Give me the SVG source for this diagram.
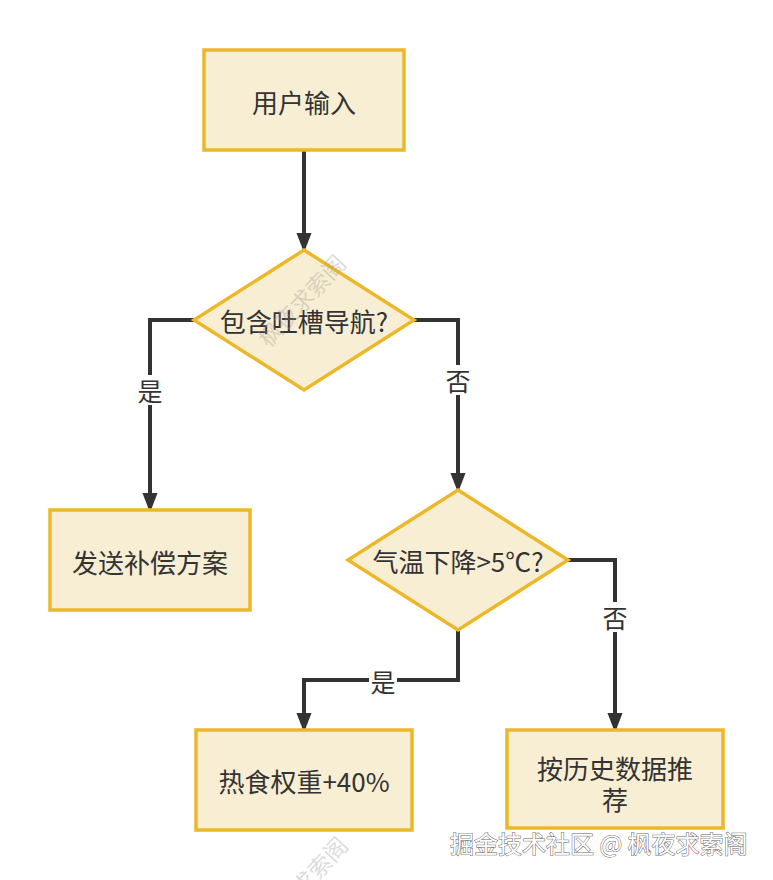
<svg xmlns="http://www.w3.org/2000/svg" width="773" height="880" viewBox="0 0 773 880">
<style>
.node{fill:#f8eed3;stroke:#ecb82a;stroke-width:3.5}
.t{font-family:"Noto Sans CJK SC","Noto Sans",sans-serif;font-size:26px;fill:#333;text-anchor:middle;dominant-baseline:central}
.edge{fill:none;stroke:#333;stroke-width:4}
.lbl{fill:#fff}
.lt{font-family:"Noto Sans CJK SC","Noto Sans",sans-serif;font-size:25px;fill:#333;text-anchor:middle;dominant-baseline:central}
.wm{font-family:"Noto Sans CJK SC",sans-serif;font-size:23px;fill:#999;fill-opacity:0.35;text-anchor:middle;dominant-baseline:central}
.wm2{font-family:"Noto Sans CJK SC",sans-serif;font-size:24px;fill:#fff;stroke:#666;stroke-width:1;paint-order:stroke;dominant-baseline:central}
</style>
<defs>
<marker id="arr" markerWidth="20" markerHeight="26" refX="20" refY="10" orient="auto" markerUnits="userSpaceOnUse" viewBox="0 0 26 20">
<path d="M0,0 L26,10 L0,20 Z" fill="#333"/>
</marker>
</defs>
<rect width="773" height="880" fill="#fff"/>
<g id="edges">
<path class="edge" d="M304,151 V248" marker-end="url(#arr)"/>
<path class="edge" d="M194,320 H150 V508" marker-end="url(#arr)"/>
<path class="edge" d="M414,320 H458 V488" marker-end="url(#arr)"/>
<path class="edge" d="M458,630 V680 H304 V728" marker-end="url(#arr)"/>
<path class="edge" d="M568,560 H615 V728" marker-end="url(#arr)"/>
</g>
<g id="edge-labels">
<rect class="lbl" x="136" y="375" width="28" height="30"/>
<text class="lt" x="150" y="390">是</text>
<rect class="lbl" x="444" y="365" width="28" height="30"/>
<text class="lt" x="458" y="380">否</text>
<rect class="lbl" x="369" y="666" width="28" height="30"/>
<text class="lt" x="383" y="681">是</text>
<rect class="lbl" x="601" y="602" width="28" height="30"/>
<text class="lt" x="615" y="617">否</text>
</g>
<g id="n1">
<rect class="node" x="204" y="50" width="200" height="100"/>
<text class="t" x="304" y="101">用户输入</text>
</g>
<g id="n2">
<polygon class="node" points="304,250 414,320 304,390 194,320"/>
<text class="t" x="304" y="320">包含吐槽导航?</text>
</g>
<g id="n3">
<rect class="node" x="50" y="510" width="200" height="100"/>
<text class="t" x="150" y="561">发送补偿方案</text>
</g>
<g id="n4">
<polygon class="node" points="458,490 568,560 458,630 348,560"/>
<text class="t" x="458" y="560">气温下降&gt;5℃?</text>
</g>
<g id="n5">
<rect class="node" x="196" y="730" width="216" height="100"/>
<text class="t" x="304" y="780">热食权重+40%</text>
</g>
<g id="n6">
<rect class="node" x="507" y="730" width="216" height="98"/>
<text class="t" x="615" y="767">按历史数据推<tspan x="615" dy="31">荐</tspan></text>
</g>
<g id="watermarks">
<text class="wm" transform="translate(301,300) rotate(-47)">枫夜求索阁</text>
<text class="wm" transform="translate(303,882) rotate(-47)">枫夜求索阁</text>
<text class="wm2" x="450" y="842">掘金技术社区 @ 枫夜求索阁</text>
</g>
</svg>
